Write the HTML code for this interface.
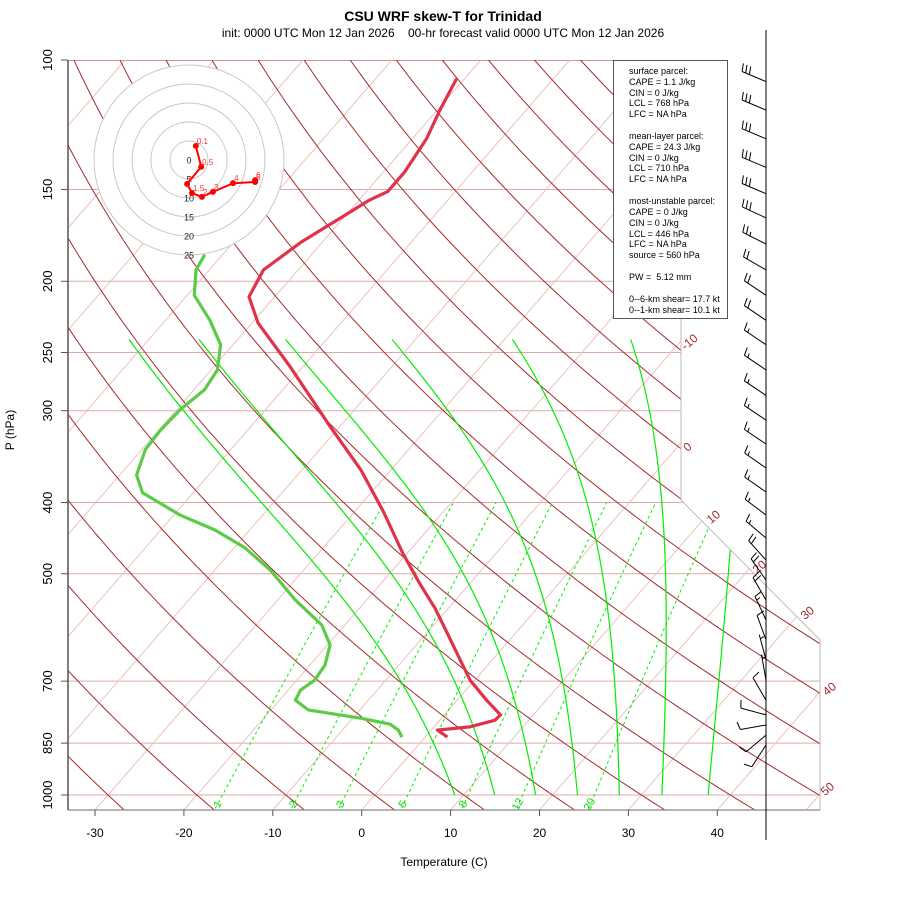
<!DOCTYPE html>
<html><head><meta charset="utf-8"><style>
body{margin:0;background:#fff}
svg{display:block;font-family:"Liberation Sans",sans-serif}
</style></head><body>
<svg id="chart" width="900" height="900" viewBox="0 0 900 900" xmlns="http://www.w3.org/2000/svg">
<defs><clipPath id="plotclip"><polygon points="68,60 681,60 681,500 820,640 820,810 68,810"/></clipPath></defs>
<text x="443" y="21" text-anchor="middle" font-size="14" font-weight="bold">CSU WRF skew-T for Trinidad</text>
<text x="443" y="37" text-anchor="middle" font-size="12" xml:space="preserve">init: 0000 UTC Mon 12 Jan 2026&#160;&#160;&#160;&#160;00-hr forecast valid 0000 UTC Mon 12 Jan 2026</text>
<g id="bg" clip-path="url(#plotclip)"></g>
<g id="frame"></g>
<g id="traces"></g>
<g id="hodo"></g>
<g id="barbs"></g>
<g id="legend">
<rect x="613.5" y="60.5" width="114" height="258" fill="#fff" stroke="#555" stroke-width="1"/>
<g font-size="9" fill="#000">
<text x="629" y="74">surface parcel:</text>
<text x="629" y="85">CAPE = 1.1 J/kg</text>
<text x="629" y="96">CIN = 0 J/kg</text>
<text x="629" y="106">LCL = 768 hPa</text>
<text x="629" y="117">LFC = NA hPa</text>
<text x="629" y="139">mean-layer parcel:</text>
<text x="629" y="150">CAPE = 24.3 J/kg</text>
<text x="629" y="161">CIN = 0 J/kg</text>
<text x="629" y="171">LCL = 710 hPa</text>
<text x="629" y="182">LFC = NA hPa</text>
<text x="629" y="204">most-unstable parcel:</text>
<text x="629" y="215">CAPE = 0 J/kg</text>
<text x="629" y="226">CIN = 0 J/kg</text>
<text x="629" y="237">LCL = 446 hPa</text>
<text x="629" y="247">LFC = NA hPa</text>
<text x="629" y="258">source = 560 hPa</text>
<text x="629" y="280" xml:space="preserve">PW =  5.12 mm</text>
<text x="629" y="302">0--6-km shear= 17.7 kt</text>
<text x="629" y="313">0--1-km shear= 10.1 kt</text>
</g></g>
<text x="444" y="866" text-anchor="middle" font-size="12">Temperature (C)</text>
<text transform="translate(14,430) rotate(-90)" text-anchor="middle" font-size="12">P (hPa)</text>
</svg>
<script>
// ---- data ----
const tempP = [106,117,128,142,151,155,164,177,193,210,228,262,314,361,412,469,515,557,602,655,698,743,778,791,808,816,834];
const tempT = [-60.9,-59.7,-58.4,-57.6,-57.6,-58.8,-60.3,-62.4,-63.9,-62.9,-59.3,-51.3,-41.3,-33.4,-26.7,-20.5,-15.7,-11.5,-7.7,-3.6,-0.5,3.3,6.3,6.2,4.0,0.7,2.5];
const dewP = [184,193,209,226,244,264,281,299,319,339,367,388,416,436,461,494,543,587,625,666,698,720,743,766,786,801,816,834];
const dewT = [-72.0,-71.5,-69.2,-65.0,-61.4,-59.3,-58.8,-59.6,-59.8,-59.6,-58.1,-55.7,-49.3,-43.9,-38.8,-33.8,-28.0,-22.6,-19.7,-18.3,-18.0,-18.6,-18.2,-15.8,-9.2,-5.2,-3.7,-2.6];
const pressureTicks = [100,150,200,250,300,400,500,700,850,1000];
const tempTicks = [-30,-20,-10,0,10,20,30,40];
const dryThetas = [-40,-30,-20,-10,0,10,20,30,40,50,60,70,80,90,100,110,120,130,140,150,160,170,180,190,200];
const dryLabels = ["-10","0","10","20","30","40","50"];
const isotherms = [-160,-150,-140,-130,-120,-110,-100,-90,-80,-70,-60,-50,-40,-30,-20,-10,0,10,20,30,40,50];
const moistStart = [9.0,13.5,18.1,22.8,27.5,32.3,37.5];
const mixRatios = [1,2,3,5,8,12,20];
const hodoU = [1.8,3.2,-0.5,0.8,3.4,6.3,11.6,17.4,17.4];
const hodoV = [3.7,-1.8,-6.3,-8.7,-9.7,-8.4,-6.1,-5.8,-5.3];
const hodoLabels = ["0.1","0.5","1","1.5","2","3","4","5","6"];
const hodoRings = [5,10,15,20,25];
const barbP = [107,117,128,140,152,164,178,193,209,226,244,264,286,309,333,359,387,416,447,479,510,543,578,615,655,698,743,778,803,829,855];
const barbSpd = [30,30,30,30,30,30,25,20,20,20,15,15,15,15,15,15,15,15,15,20,20,20,15,10,5,5,10,10,10,10,10];
const barbDir = [293,293,293,293,293,295,297,300,304,304,304,304,304,304,304,305,305,307,310,318,325,330,335,340,345,350,330,285,260,230,213];

// ---- scales ----
const NS='http://www.w3.org/2000/svg';
function yP(p){return 795-319.2*Math.log(1000/p);}
function xT(T,p){return 361.7+8.89*T+0.87*(810-yP(p));}
function mk(tag,attrs,parent){const e=document.createElementNS(NS,tag);for(const k in attrs)e.setAttribute(k,attrs[k]);parent.appendChild(e);return e;}
function pathFrom(pts){return pts.map((q,i)=>(i?'L':'M')+q[0].toFixed(1)+','+q[1].toFixed(1)).join('');}
const bg=document.getElementById('bg');
const frame=document.getElementById('frame');
const traces=document.getElementById('traces');

pressureTicks.forEach(p=>{
  const l=mk('line',{x1:68,x2:820,y1:yP(p),y2:yP(p),stroke:p==100?'#a52a2a':'#ddaaaa','stroke-width':1},bg);
  
  
});
isotherms.forEach(T=>{
  const l=mk('line',{x1:xT(T,1000)-0.87*15,y1:810,x2:xT(T,100),y2:yP(100),stroke:'#eec0c0','stroke-width':1},bg);
  
  
});
dryThetas.forEach(th=>{
  const pts=[];
  for(let p=1060;p>=95;p-=5){const T=(th+273.15)*Math.pow(p/1000,0.2857)-273.15;pts.push([xT(T,p),yP(p)]);}
  const e=mk('path',{d:pathFrom(pts),fill:'none',stroke:'#a52a2a','stroke-width':1},bg);
  
  
});
function es(T){return 6.112*Math.exp(17.67*T/(T+243.5));}
mixRatios.forEach(w=>{
  const pts=[];
  for(let p=1060;p>=400;p-=10){const e=(w/1000)*p/(0.622+w/1000);const a=Math.log(e/6.112);const Td=243.5*a/(17.67-a);pts.push([xT(Td,p),yP(p)]);}
  const e=mk('path',{d:pathFrom(pts),fill:'none',stroke:'#00ee00','stroke-width':1,'stroke-dasharray':'3,3'},bg);
  
  
});
moistStart.forEach(T0=>{
  let T=T0+273.15;const pts=[];
  for(let p=1000;p>=240;p-=2){
    pts.push([xT(T-273.15,p),yP(p)]);
    const e=es(T-273.15),rs=0.622*e/(p-e);
    const Rd=287.04,cp=1005.7,Lv=2.501e6;
    const dTdp=(Rd*T+Lv*rs)/(cp+Lv*Lv*rs*0.622/(Rd*T*T))/p;
    T-=dTdp*2;
  }
  const e=mk('path',{d:pathFrom(pts),fill:'none',stroke:'#00ee00','stroke-width':1.2},bg);
  
  
});
mixRatios.forEach(w=>{
  const p=1000,e=(w/1000)*p/(0.622+w/1000),a=Math.log(e/6.112),Td=243.5*a/(17.67-a);
  const x=xT(Td,p)-2,y=806;
  const t=mk('text',{x:x,y:y,fill:'#00dd00','font-size':11,transform:`rotate(-60 ${x} ${y})`,'text-anchor':'middle'},frame);
  t.textContent=w;
  
  
});
const dryLabelPos=[[692,345],[690,450],[716,520],[762,570],[810,616],[832,692],[830,792]];
dryLabels.forEach((s,i)=>{
  const [x,y]=dryLabelPos[i];
  const t=mk('text',{x:x,y:y,fill:'#a52a2a','font-size':12,transform:`rotate(-40 ${x} ${y})`,'text-anchor':'middle'},frame);
  t.textContent=s;
  
  
});
mk('polyline',{points:'681,60 681,500 820,640 820,810',fill:'none',stroke:'#bbb','stroke-width':1},frame);
mk('line',{x1:68,y1:810,x2:820,y2:810,stroke:'#888','stroke-width':1.2},frame);
mk('line',{x1:68,y1:60,x2:68,y2:810,stroke:'#555','stroke-width':1.5},frame);
pressureTicks.forEach(p=>{
  const y=yP(p);
  mk('line',{x1:61,x2:68,y1:y,y2:y,stroke:'#555'},frame);
  const t=mk('text',{x:52,y:y,'font-size':13,'text-anchor':'middle',transform:`rotate(-90 52 ${y})`},frame);
  t.textContent=p;
  
  
});
tempTicks.forEach(T=>{
  const x=361.7+8.89*T;
  mk('line',{x1:x,x2:x,y1:810,y2:816,stroke:'#555'},frame);
  const t=mk('text',{x:x,y:837,'font-size':12,'text-anchor':'middle'},frame);
  t.textContent=T;
  
  
});
const dew=mk('path',{d:pathFrom(dewP.map((p,i)=>[xT(dewT[i],p),yP(p)])),fill:'none',stroke:'#5ccb48','stroke-width':3.2,'stroke-linejoin':'round'},traces);


const tmp=mk('path',{d:pathFrom(tempP.map((p,i)=>[xT(tempT[i],p),yP(p)])),fill:'none',stroke:'#e0334a','stroke-width':3.2,'stroke-linejoin':'round'},traces);


const hodo=document.getElementById('hodo');
const cx=189,cy=160,k=3.8;
mk('circle',{cx:cx,cy:cy,r:25*k,fill:'#fff',stroke:'none'},hodo);
hodoRings.forEach(r=>{
  const c=mk('circle',{cx:cx,cy:cy,r:r*k,fill:'none',stroke:'#c8c8c8','stroke-width':1},hodo);
  
  
});
[0].concat(hodoRings).forEach(r=>{
  const t=mk('text',{x:cx,y:cy+r*k+3.5,'font-size':9,'text-anchor':'middle',fill:'#222'},hodo);
  t.textContent=r;
});
const hp=hodoU.map((u,i)=>[cx+u*k,cy-hodoV[i]*k]);
const hl=mk('path',{d:pathFrom(hp),fill:'none',stroke:'#f00','stroke-width':2},hodo);


hp.forEach((q,i)=>{
  const c=mk('circle',{cx:q[0],cy:q[1],r:3,fill:'#f00'},hodo);
  
  
  const t=mk('text',{x:q[0]+1,y:q[1]-2,'font-size':8,fill:'#f33'},hodo);
  t.textContent=hodoLabels[i];
});
const barbs=document.getElementById('barbs');
mk('line',{x1:766,y1:30,x2:766,y2:840,stroke:'#000','stroke-width':1},barbs);
barbP.forEach((p,i)=>{
  const y=yP(p),x=766,L=26;
  const a=barbDir[i]*Math.PI/180;
  const dx=Math.sin(a),dy=-Math.cos(a);
  const tx=x+dx*L,ty=y+dy*L;
  let d=`M${x},${y.toFixed(1)}L${tx.toFixed(1)},${ty.toFixed(1)}`;
  const px=-dy,py=dx;
  let s=barbSpd[i],pos=0;
  while(s>=10){const bx=tx-dx*pos*4,by=ty-dy*pos*4;d+=`M${bx.toFixed(1)},${by.toFixed(1)}l${(px*8+dx*2).toFixed(1)},${(py*8+dy*2).toFixed(1)}`;s-=10;pos++;}
  if(s>=5){if(pos==0)pos=1;const bx=tx-dx*pos*4,by=ty-dy*pos*4;d+=`M${bx.toFixed(1)},${by.toFixed(1)}l${(px*4+dx*1).toFixed(1)},${(py*4+dy*1).toFixed(1)}`;}
  const e=mk('path',{d:d,fill:'none',stroke:'#000','stroke-width':1},barbs);
  
  
});
</script>
</body></html>
